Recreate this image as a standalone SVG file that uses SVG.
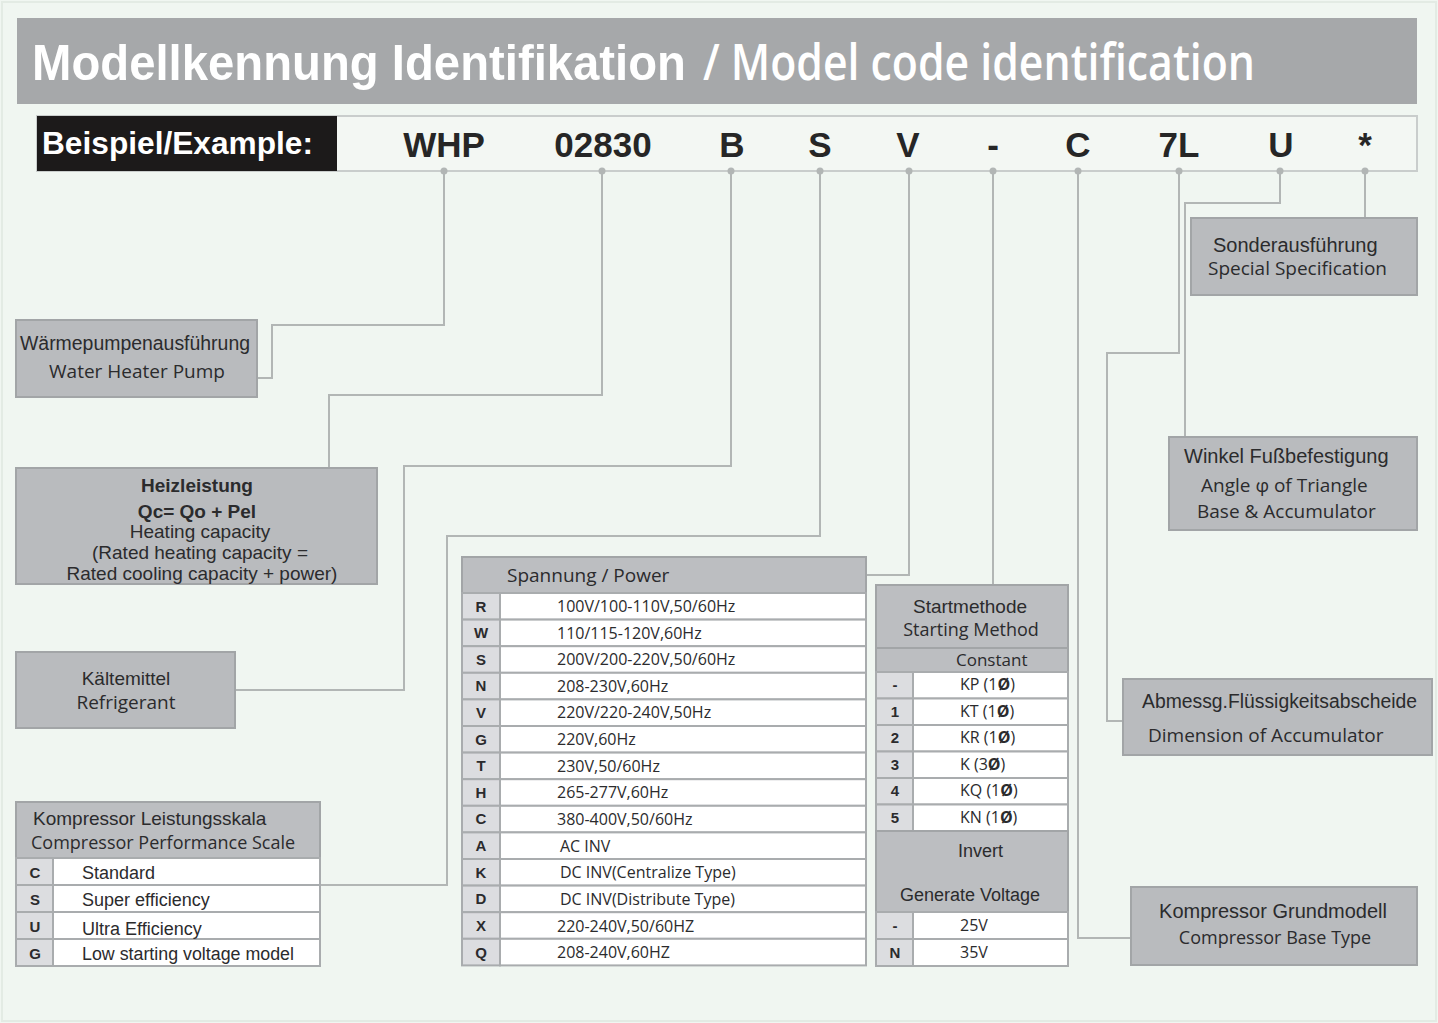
<svg xmlns="http://www.w3.org/2000/svg" width="1438" height="1023" viewBox="0 0 1438 1023">
<defs>
<style>
.bg{fill:#f0f6f1}
.box{fill:#b9bbbe;stroke:#a2a5a7;stroke-width:2}
.cell{fill:#ffffff;stroke:#a9acae;stroke-width:2}
.key{fill:#dcdde0;stroke:#a9acae;stroke-width:2}
.hdr{fill:#bcbec1;stroke:#a2a5a7;stroke-width:2}
.ln{fill:none;stroke:#b2b6b5;stroke-width:2}
.dot{fill:#b2b6b5}
.t{font-family:"Liberation Sans",Arial,sans-serif;fill:#2b2b2d}
.o{font-family:"Open Sans","Liberation Sans",sans-serif;fill:#2b2b2d}
.k{font-family:"Liberation Sans",Arial,sans-serif;font-weight:bold;fill:#2b2b2d;font-size:15px;text-anchor:middle}
.code{font-family:"Liberation Sans",Arial,sans-serif;font-weight:bold;fill:#262626;font-size:35px;text-anchor:middle}
.c{text-anchor:middle}
</style>
</defs>
<rect class="bg" x="0" y="0" width="1438" height="1023"/>
<rect x="2" y="2" width="1434" height="1019" fill="none" stroke="#e3ebe4" stroke-width="2"/>

<g id="title">
<rect x="17" y="18" width="1400" height="86" fill="#a6a8aa"/>
<text x="32" y="80" font-family="Liberation Sans,Arial,sans-serif" font-weight="bold" font-size="50" fill="#ffffff" textLength="654" lengthAdjust="spacingAndGlyphs">Modellkennung Identifikation</text>
<text x="703" y="80" font-family="Open Sans,Liberation Sans,sans-serif" font-weight="600" font-size="50" fill="#ffffff" textLength="552" lengthAdjust="spacingAndGlyphs">/ Model code identification</text>
</g>

<g id="example">
<rect x="37" y="116" width="1380" height="55" fill="#f3f7f3" stroke="#c9cdcc" stroke-width="2"/>
<rect x="37" y="116" width="300" height="55" fill="#1c1a1a"/>
<text x="42" y="154" font-family="Liberation Sans,Arial,sans-serif" font-weight="bold" font-size="32" fill="#ffffff" textLength="271" lengthAdjust="spacingAndGlyphs">Beispiel/Example:</text>
<text class="code" x="444" y="157">WHP</text>
<text class="code" x="603" y="157">02830</text>
<text class="code" x="732" y="157">B</text>
<text class="code" x="820" y="157">S</text>
<text class="code" x="908" y="157">V</text>
<text class="code" x="993" y="157">-</text>
<text class="code" x="1078" y="157">C</text>
<text class="code" x="1179" y="157">7L</text>
<text class="code" x="1281" y="157">U</text>
<text class="code" x="1365" y="157" font-size="22">*</text>
</g>

<g id="connectors">
<path class="ln" d="M444 171 V325 H272 V378 H257"/>
<path class="ln" d="M602 171 V395 H329 V468"/>
<path class="ln" d="M731 171 V466 H404 V690 H235"/>
<path class="ln" d="M820 171 V536 H447 V885 H320"/>
<path class="ln" d="M909 171 V575 H866"/>
<path class="ln" d="M993 171 V585"/>
<path class="ln" d="M1078 171 V938 H1131"/>
<path class="ln" d="M1179 171 V353 H1107 V721 H1123"/>
<path class="ln" d="M1280 171 V203 H1185 V437"/>
<path class="ln" d="M1365 171 V218"/>
<circle class="dot" cx="444" cy="171" r="3.5"/>
<circle class="dot" cx="602" cy="171" r="3.5"/>
<circle class="dot" cx="731" cy="171" r="3.5"/>
<circle class="dot" cx="820" cy="171" r="3.5"/>
<circle class="dot" cx="909" cy="171" r="3.5"/>
<circle class="dot" cx="993" cy="171" r="3.5"/>
<circle class="dot" cx="1078" cy="171" r="3.5"/>
<circle class="dot" cx="1179" cy="171" r="3.5"/>
<circle class="dot" cx="1280" cy="171" r="3.5"/>
<circle class="dot" cx="1365" cy="171" r="3.5"/>
</g>

<g id="node-waermepumpe">
<rect class="box" x="16" y="320" width="241" height="77"/>
<text class="t" x="20" y="350" font-size="20" textLength="230" lengthAdjust="spacingAndGlyphs">Wärmepumpenausführung</text>
<text class="o c" x="137" y="378" font-size="19">Water Heater Pump</text>
</g>

<g id="node-heizleistung">
<rect class="box" x="16" y="468" width="361" height="116"/>
<text class="t c" x="197" y="492" font-size="19" font-weight="bold">Heizleistung</text>
<text class="t c" x="197" y="518" font-size="19" font-weight="bold">Qc= Qo + Pel</text>
<text class="t c" x="200" y="538" font-size="19">Heating capacity</text>
<text class="t c" x="200" y="559" font-size="19">(Rated heating capacity =</text>
<text class="t c" x="202" y="580" font-size="19">Rated cooling capacity + power)</text>
</g>

<g id="node-kaeltemittel">
<rect class="box" x="16" y="652" width="219" height="76"/>
<text class="t c" x="126" y="685" font-size="19">Kältemittel</text>
<text class="o c" x="126" y="709" font-size="19">Refrigerant</text>
</g>

<g id="node-kompressor-leistung">
<rect class="hdr" x="16" y="802" width="304" height="56"/>
<text class="t" x="33" y="825" font-size="19">Kompressor Leistungsskala</text>
<text class="o" x="31" y="849" font-size="18">Compressor Performance Scale</text>
<rect class="key" x="16" y="858" width="37" height="27"/><rect class="cell" x="53" y="858" width="267" height="27"/>
<rect class="key" x="16" y="885" width="37" height="27"/><rect class="cell" x="53" y="885" width="267" height="27"/>
<rect class="key" x="16" y="912" width="37" height="27"/><rect class="cell" x="53" y="912" width="267" height="27"/>
<rect class="key" x="16" y="939" width="37" height="27"/><rect class="cell" x="53" y="939" width="267" height="27"/>
<text class="k" x="35" y="878">C</text><text class="t" x="82" y="879" font-size="18">Standard</text>
<text class="k" x="35" y="905">S</text><text class="t" x="82" y="906" font-size="18">Super efficiency</text>
<text class="k" x="35" y="932">U</text><text class="t" x="82" y="935" font-size="18">Ultra Efficiency</text>
<text class="k" x="35" y="959">G</text><text class="t" x="82" y="960" font-size="18" textLength="212" lengthAdjust="spacingAndGlyphs">Low  starting voltage model</text>
</g>

<g id="node-power">
<rect class="hdr" x="462" y="557" width="404" height="36"/>
<text class="o" x="507" y="582" font-size="19">Spannung / Power</text>
<g>
<rect class="key" x="462" y="593" width="38" height="26.6"/><rect class="cell" x="500" y="593" width="366" height="26.6"/>
<rect class="key" x="462" y="619.6" width="38" height="26.6"/><rect class="cell" x="500" y="619.6" width="366" height="26.6"/>
<rect class="key" x="462" y="646.2" width="38" height="26.6"/><rect class="cell" x="500" y="646.2" width="366" height="26.6"/>
<rect class="key" x="462" y="672.8" width="38" height="26.6"/><rect class="cell" x="500" y="672.8" width="366" height="26.6"/>
<rect class="key" x="462" y="699.4" width="38" height="26.6"/><rect class="cell" x="500" y="699.4" width="366" height="26.6"/>
<rect class="key" x="462" y="726" width="38" height="26.6"/><rect class="cell" x="500" y="726" width="366" height="26.6"/>
<rect class="key" x="462" y="752.6" width="38" height="26.6"/><rect class="cell" x="500" y="752.6" width="366" height="26.6"/>
<rect class="key" x="462" y="779.2" width="38" height="26.6"/><rect class="cell" x="500" y="779.2" width="366" height="26.6"/>
<rect class="key" x="462" y="805.8" width="38" height="26.6"/><rect class="cell" x="500" y="805.8" width="366" height="26.6"/>
<rect class="key" x="462" y="832.4" width="38" height="26.6"/><rect class="cell" x="500" y="832.4" width="366" height="26.6"/>
<rect class="key" x="462" y="859" width="38" height="26.6"/><rect class="cell" x="500" y="859" width="366" height="26.6"/>
<rect class="key" x="462" y="885.6" width="38" height="26.6"/><rect class="cell" x="500" y="885.6" width="366" height="26.6"/>
<rect class="key" x="462" y="912.2" width="38" height="26.6"/><rect class="cell" x="500" y="912.2" width="366" height="26.6"/>
<rect class="key" x="462" y="938.8" width="38" height="26.6"/><rect class="cell" x="500" y="938.8" width="366" height="26.6"/>
</g>
<text class="k" x="481" y="612">R</text><text class="o" x="557" y="612" font-size="16">100V/100-110V,50/60Hz</text>
<text class="k" x="481" y="638">W</text><text class="o" x="557" y="639" font-size="16">110/115-120V,60Hz</text>
<text class="k" x="481" y="665">S</text><text class="o" x="557" y="665" font-size="16">200V/200-220V,50/60Hz</text>
<text class="k" x="481" y="691">N</text><text class="o" x="557" y="692" font-size="16">208-230V,60Hz</text>
<text class="k" x="481" y="718">V</text><text class="o" x="557" y="718" font-size="16">220V/220-240V,50Hz</text>
<text class="k" x="481" y="745">G</text><text class="o" x="557" y="745" font-size="16">220V,60Hz</text>
<text class="k" x="481" y="771">T</text><text class="o" x="557" y="772" font-size="16">230V,50/60Hz</text>
<text class="k" x="481" y="798">H</text><text class="o" x="557" y="798" font-size="16">265-277V,60Hz</text>
<text class="k" x="481" y="824">C</text><text class="o" x="557" y="825" font-size="16">380-400V,50/60Hz</text>
<text class="k" x="481" y="851">A</text><text class="o" x="560" y="852" font-size="16">AC INV</text>
<text class="k" x="481" y="878">K</text><text class="o" x="560" y="878" font-size="16">DC INV(Centralize Type)</text>
<text class="k" x="481" y="904">D</text><text class="o" x="560" y="905" font-size="16">DC INV(Distribute Type)</text>
<text class="k" x="481" y="931">X</text><text class="o" x="557" y="932" font-size="16">220-240V,50/60HZ</text>
<text class="k" x="481" y="958">Q</text><text class="o" x="557" y="958" font-size="16">208-240V,60HZ</text>
</g>

<g id="node-startmethode">
<rect class="hdr" x="876" y="585" width="192" height="63"/>
<text class="t c" x="970" y="613" font-size="19">Startmethode</text>
<text class="o c" x="971" y="636" font-size="18">Starting Method</text>
<rect class="hdr" x="876" y="648" width="192" height="24"/>
<text class="o" x="956" y="666" font-size="17">Constant</text>
<rect class="key" x="876" y="672" width="37" height="26.5"/><rect class="cell" x="913" y="672" width="155" height="26.5"/>
<rect class="key" x="876" y="698.5" width="37" height="26.5"/><rect class="cell" x="913" y="698.5" width="155" height="26.5"/>
<rect class="key" x="876" y="725" width="37" height="26.5"/><rect class="cell" x="913" y="725" width="155" height="26.5"/>
<rect class="key" x="876" y="751.5" width="37" height="26.5"/><rect class="cell" x="913" y="751.5" width="155" height="26.5"/>
<rect class="key" x="876" y="778" width="37" height="26.5"/><rect class="cell" x="913" y="778" width="155" height="26.5"/>
<rect class="key" x="876" y="804.5" width="37" height="26.5"/><rect class="cell" x="913" y="804.5" width="155" height="26.5"/>
<text class="k" x="895" y="690">-</text><text class="o" x="960" y="690" font-size="16">KP  (1<tspan font-weight="bold">Ø</tspan>)</text>
<text class="k" x="895" y="717">1</text><text class="o" x="960" y="717" font-size="16">KT  (1<tspan font-weight="bold">Ø</tspan>)</text>
<text class="k" x="895" y="743">2</text><text class="o" x="960" y="743" font-size="16">KR (1<tspan font-weight="bold">Ø</tspan>)</text>
<text class="k" x="895" y="770">3</text><text class="o" x="960" y="770" font-size="16">K    (3<tspan font-weight="bold">Ø</tspan>)</text>
<text class="k" x="895" y="796">4</text><text class="o" x="960" y="796" font-size="16">KQ (1<tspan font-weight="bold">Ø</tspan>)</text>
<text class="k" x="895" y="823">5</text><text class="o" x="960" y="823" font-size="16">KN (1<tspan font-weight="bold">Ø</tspan>)</text>
<rect class="hdr" x="876" y="831" width="192" height="81"/>
<text class="t" x="958" y="857" font-size="18">Invert</text>
<text class="t c" x="970" y="901" font-size="18">Generate Voltage</text>
<rect class="key" x="876" y="912" width="37" height="27"/><rect class="cell" x="913" y="912" width="155" height="27"/>
<rect class="key" x="876" y="939" width="37" height="27"/><rect class="cell" x="913" y="939" width="155" height="27"/>
<text class="k" x="895" y="931">-</text><text class="o" x="960" y="931" font-size="16">25V</text>
<text class="k" x="895" y="958">N</text><text class="o" x="960" y="958" font-size="16">35V</text>
</g>

<g id="node-sonder">
<rect class="box" x="1191" y="218" width="226" height="77"/>
<text class="t" x="1213" y="252" font-size="20">Sonderausführung</text>
<text class="o" x="1208" y="275" font-size="19">Special Specification</text>
</g>

<g id="node-winkel">
<rect class="box" x="1169" y="437" width="248" height="93"/>
<text class="t" x="1184" y="463" font-size="20">Winkel  Fußbefestigung</text>
<text class="o" x="1201" y="492" font-size="19">Angle φ of Triangle</text>
<text class="o" x="1197" y="518" font-size="19">Base &amp; Accumulator</text>
</g>

<g id="node-abmessg">
<rect class="box" x="1123" y="679" width="309" height="76"/>
<text class="t" x="1142" y="708" font-size="20" textLength="275" lengthAdjust="spacingAndGlyphs">Abmessg.Flüssigkeitsabscheide</text>
<text class="o" x="1148" y="742" font-size="19">Dimension of Accumulator</text>
</g>

<g id="node-grundmodell">
<rect class="box" x="1131" y="887" width="286" height="78"/>
<text class="t c" x="1273" y="918" font-size="20">Kompressor Grundmodell</text>
<text class="o c" x="1275" y="944" font-size="18">Compressor Base Type</text>
</g>
</svg>
